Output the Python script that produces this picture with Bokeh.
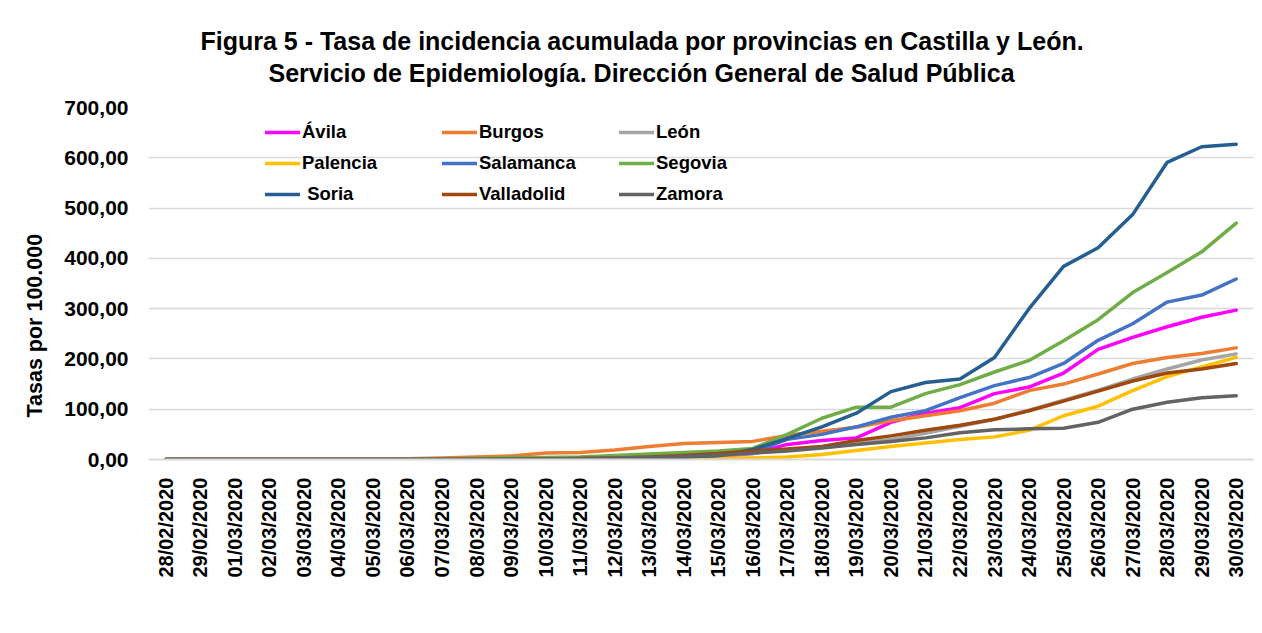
import math
from bokeh.plotting import figure
from bokeh.models import FactorRange, Range1d, Legend, LegendItem, Title, FixedTicker
from bokeh.embed import file_html
from bokeh.resources import INLINE

dates = ["28/02/2020", "29/02/2020", "01/03/2020", "02/03/2020", "03/03/2020", "04/03/2020",
         "05/03/2020", "06/03/2020", "07/03/2020", "08/03/2020", "09/03/2020", "10/03/2020",
         "11/03/2020", "12/03/2020", "13/03/2020", "14/03/2020", "15/03/2020", "16/03/2020",
         "17/03/2020", "18/03/2020", "19/03/2020", "20/03/2020", "21/03/2020", "22/03/2020",
         "23/03/2020", "24/03/2020", "25/03/2020", "26/03/2020", "27/03/2020", "28/03/2020",
         "29/03/2020", "30/03/2020"]

avila = [0, 0, 0, 0, 0, 0, 0, 0, 0, 0, 0.6, 0.6, 1.2, 1.8, 3, 4, 6, 12, 30, 38, 43, 74, 92, 103,
         131, 144, 172, 219, 243, 264, 283, 297]
burgos = [0, 0, 0, 0, 0, 0.3, 0.6, 1.5, 3, 5, 7, 13, 14, 19, 26, 32, 34, 36, 48, 56, 64, 77, 87, 97,
          112, 137, 150, 170, 191, 203, 211, 222]
leon = [0, 0, 0, 0, 0, 0, 0, 0.2, 0.5, 0.8, 1.2, 1.6, 2.5, 3.5, 5, 7, 9, 12, 20, 24, 32, 40, 52, 66,
        80, 98, 118, 138, 160, 180, 198, 210]
palencia = [0, 0, 0, 0, 0, 0, 0, 0, 0, 0, 0.3, 0.5, 0.8, 1, 1.5, 2, 2.5, 3, 5, 10, 18, 26, 33, 40,
            45, 58, 87, 106, 137, 165, 184, 203]
salamanca = [0, 0, 0, 0, 0, 0, 0, 0, 0, 0, 0.5, 1, 1.5, 2, 3, 5, 8, 15, 40, 50, 65, 84, 97, 123,
             147, 163, 191, 237, 270, 313, 327, 359]
segovia = [0, 0, 0, 0, 0, 0, 0, 0.5, 1, 2, 4, 4, 5, 8, 11, 14, 17, 22, 50, 82, 104, 104, 131, 149,
           174, 197, 236, 278, 332, 372, 413, 470]
soria = [0, 0, 0, 0, 0, 0, 0, 0, 0, 0, 0, 0, 1, 2, 3, 5, 8, 20, 42, 65, 92, 135, 153, 160, 203, 300,
         384, 421, 487, 591, 622, 627]
valladolid = [0, 0, 0, 0, 0, 0, 0, 0, 0, 0, 0.5, 1, 2, 3, 5, 8, 12, 17, 21, 26, 38, 47, 58, 68, 80,
              97, 116, 136, 156, 172, 180, 191]
zamora = [0, 0, 0, 0, 0, 0, 0, 0, 0, 0, 0.5, 1, 2, 3, 4, 6, 9, 13, 17, 23, 30, 36, 43, 53, 59, 61,
          62, 74, 100, 114, 123, 127]

names = ["Ávila", "Burgos", "León", "Palencia", "Salamanca", "Segovia", " Soria", "Valladolid", "Zamora"]
series = [avila, burgos, leon, palencia, salamanca, segovia, soria, valladolid, zamora]
colors = ["#FF00FF", "#ED7D31", "#A5A5A5", "#FFC000", "#4472C4", "#70AD47", "#255E91", "#9E480E", "#636363"]

y_ticks = [0, 100, 200, 300, 400, 500, 600, 700]
y_tick_labels = ["0,00", "100,00", "200,00", "300,00", "400,00", "500,00", "600,00", "700,00"]

title1 = "Figura 5 - Tasa de incidencia acumulada por provincias en Castilla y León."
title2 = "Servicio de Epidemiología. Dirección General de Salud Pública"
ylabel = "Tasas por 100.000"

FONT = "Liberation Sans"

p = figure(width=1254, height=617, output_backend="svg", toolbar_location=None,
           x_range=FactorRange(*dates), y_range=Range1d(0, 700),
           min_border_left=148, min_border_right=1, min_border_top=107, min_border_bottom=158)
p.outline_line_color = None
p.background_fill_color = "white"
p.border_fill_color = "white"

renderers = []
for s, c in zip(series, colors):
    r = p.line(dates, s, line_color=c, line_width=3.5, line_cap="round", line_join="round")
    renderers.append(r)

# axes
p.yaxis.ticker = FixedTicker(ticks=y_ticks)
p.yaxis.major_label_overrides = {t: l for t, l in zip(y_ticks, y_tick_labels)}
p.yaxis.axis_line_color = None
p.yaxis.major_tick_line_color = None
p.yaxis.minor_tick_line_color = None
p.yaxis.major_label_standoff = 14
p.yaxis.major_label_text_font = FONT
p.yaxis.major_label_text_font_style = "bold"
p.yaxis.major_label_text_font_size = "21px"
p.yaxis.major_label_text_color = "black"

p.xaxis.axis_line_color = "#D9D9D9"
p.xaxis.axis_line_width = 2
p.xaxis.major_tick_line_color = None
p.xaxis.minor_tick_line_color = None
p.xaxis.major_label_orientation = math.pi / 2
p.xaxis.major_label_standoff = 12
p.xaxis.major_label_text_font = FONT
p.xaxis.major_label_text_font_style = "bold"
p.xaxis.major_label_text_font_size = "20px"
p.xaxis.major_label_text_color = "black"

p.xgrid.grid_line_color = None
p.ygrid.grid_line_color = "#D9D9D9"
p.ygrid.grid_line_width = 1.5

# legends: three columns
for col in range(3):
    items = [LegendItem(label=names[col + 3 * row], renderers=[renderers[col + 3 * row]]) for row in range(3)]
    lg = Legend(items=items, location=(117 + 177 * col, 254), orientation="vertical",
                glyph_width=35, glyph_height=20, label_height=20, label_standoff=2, spacing=9,
                padding=0, margin=0, border_line_color=None, background_fill_alpha=0,
                label_text_font=FONT, label_text_font_style="bold", label_text_font_size="18.5px",
                label_text_color="black")
    p.add_layout(lg, "center")

# titles (second line first: later additions go further out)
p.add_layout(Title(text=title2, align="left", offset=120, standoff=42, text_font=FONT,
                   text_font_style="bold", text_font_size="25px", text_color="black"), "above")
p.add_layout(Title(text=title1, align="left", offset=52, standoff=-39, text_font=FONT,
                   text_font_style="bold", text_font_size="25px", text_color="black"), "above")

p.add_layout(Title(text=ylabel, align="left", offset=42, standoff=30, text_font=FONT,
                   text_font_style="bold", text_font_size="21.5px", text_color="black"), "left")

open("out.html", "w").write(file_html(p, INLINE))
